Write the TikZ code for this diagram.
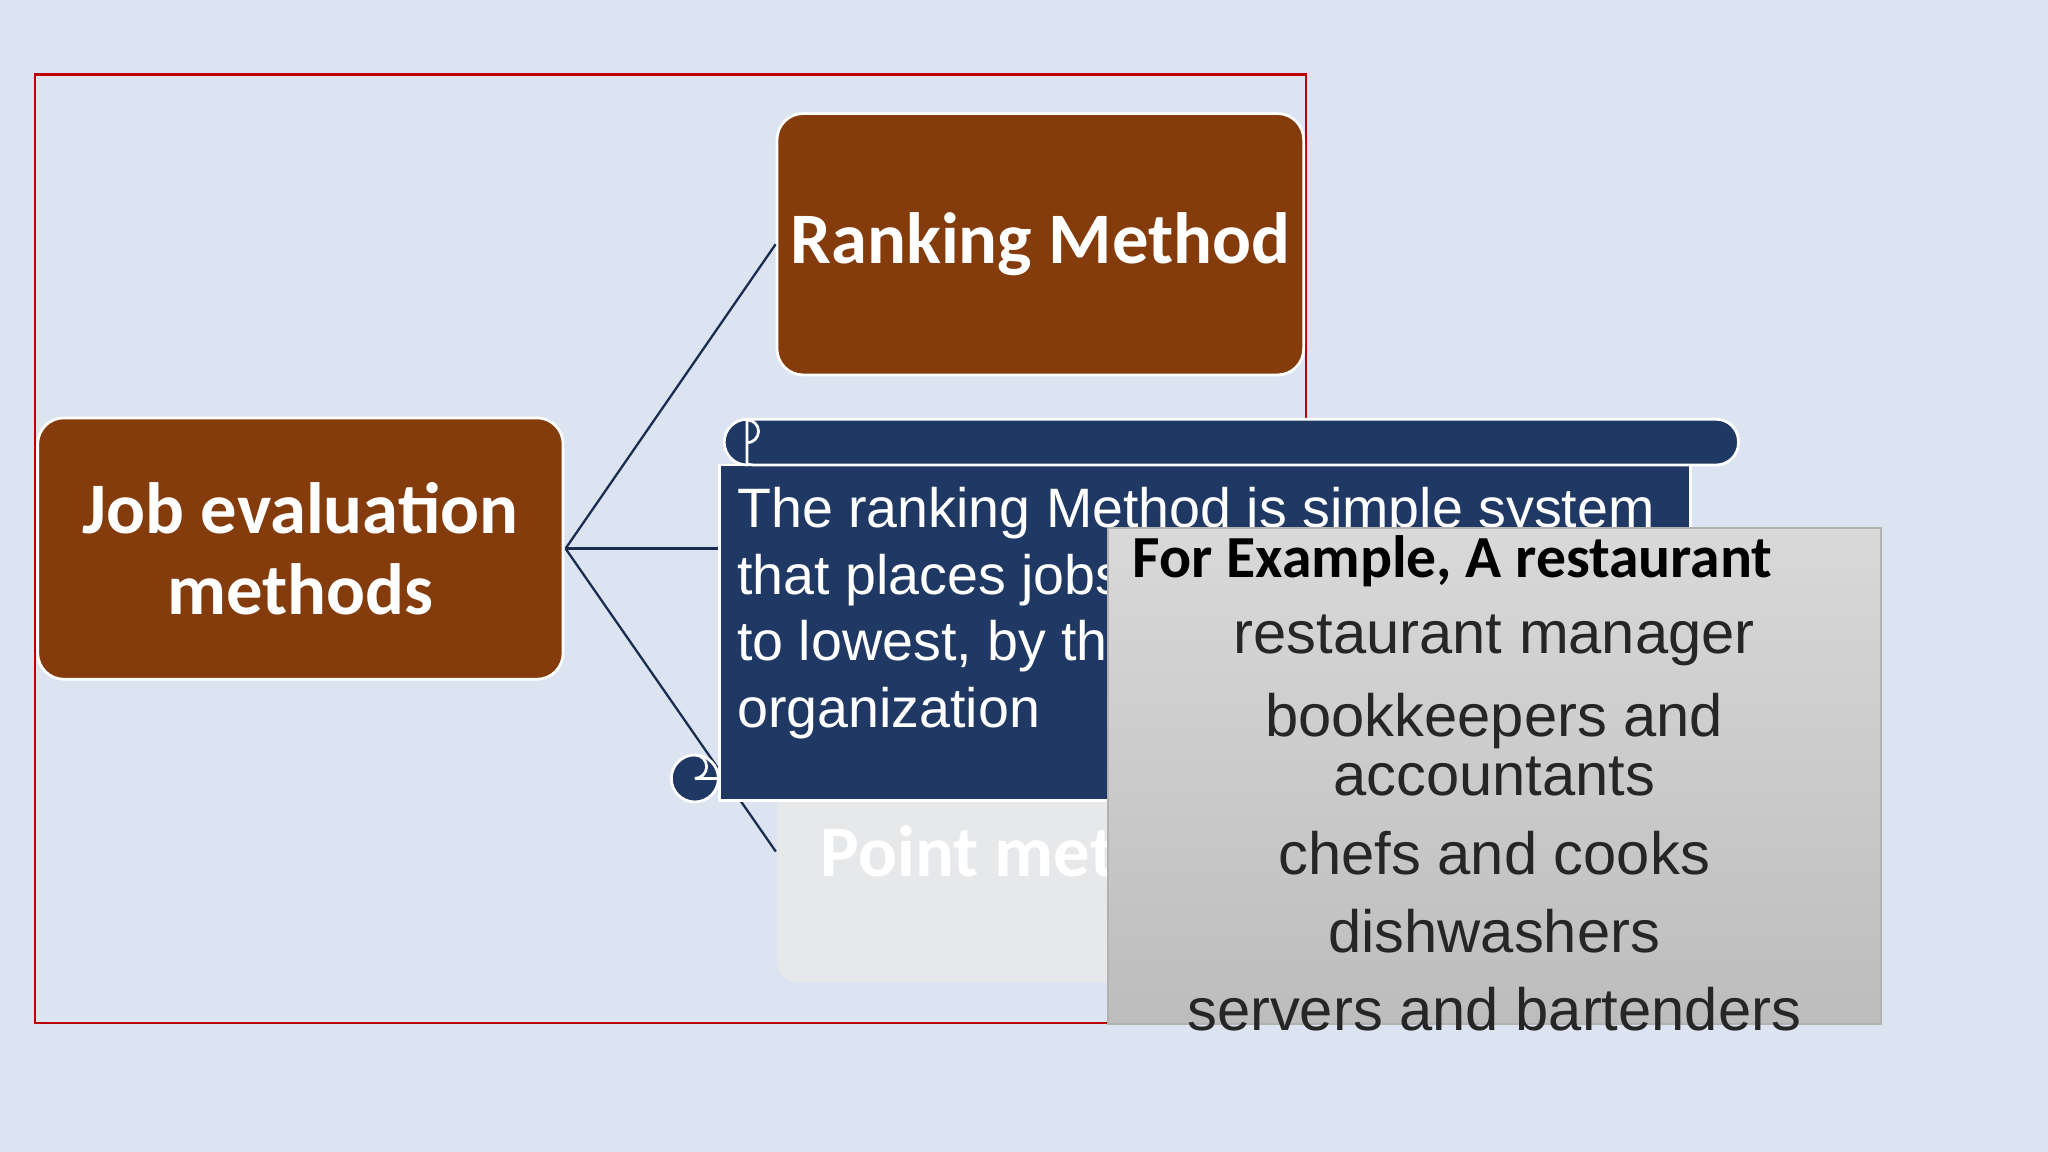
\documentclass[tikz,border=0pt]{standalone}
\usepackage{fontspec}
\setmainfont{Liberation Sans}
\newfontfamily\carlitofont{Carlito}
\definecolor{bg}{HTML}{DCE3F1}
\definecolor{brown}{HTML}{843C0C}
\definecolor{navy}{HTML}{1F3864}
\definecolor{pt}{HTML}{E7E8EA}
\definecolor{txt}{HTML}{262626}
\begin{document}
\begin{tikzpicture}[x=0.01cm,y=-0.01cm,
  brownbox/.style={fill=brown,draw=white,line width=0.6pt,rounded corners=0.2cm},
  title/.style={font=\carlitofont\bfseries\fontsize{15.8}{17.5}\selectfont,text=white,align=center},
  item/.style={font=\fontsize{13}{12.8}\selectfont,text=txt,align=center},
  body/.style={font=\fontsize{12.1}{14.5}\selectfont,text=white,anchor=west},
  conn/.style={draw=navy!80!black,line width=0.5pt}]
\fill[bg] (0,0) rectangle (1568,882);
\draw[red!75!black,line width=0.5pt] (27,57) rectangle (1000,783);
% point method box (behind)
\fill[pt,rounded corners=0.15cm] (595,600) rectangle (998,752);
\node[title,anchor=west,text=white] (pm) at (616,652) {Point method};
% boxes
\node[brownbox,minimum width=4.02cm,minimum height=2.0cm] (job) at (230,420) {};
\node[title] at (230,420) {Job evaluation\\methods};
\node[brownbox,minimum width=4.03cm,minimum height=2.0cm] (rank) at (796.5,187) {};
\node[title] at (796.5,187) {Ranking Method};
\coordinate (hub) at (433,420);
\coordinate (mid) at (550,420);
\coordinate (pme) at (594,652);
\draw[conn] (hub) -- (rank.west);
\draw[conn] (hub) -- (mid);
\draw[conn] (hub) -- (pme);
% scroll
\fill[navy,draw=white,line width=0.6pt] (551,356) rectangle (1294,613);
\fill[navy,draw=white,line width=0.6pt,rounded corners=0.17cm] (560,321) rectangle (1331,356);
\fill[navy,draw=white,line width=0.6pt] (572,321) arc (270:90:17.5) -- cycle;
\draw[white,line width=0.6pt] (572,339) arc (90:-90:8.75);
\fill[navy,draw=white,line width=0.6pt] (532,596) circle (18);
\draw[white,line width=0.6pt] (532,578) arc (270:450:9) -- (550,596);
\node[body] (l1) at (552,393) {The ranking Method is simple system};
\node[body] (l2) at (552,444) {that places jobs in order, from highest};
\node[body] (l3) at (552,495) {to lowest, by their value to the};
\node[body] (l4) at (552,546) {organization};
% gray box
\shade[top color=black!15,bottom color=black!26,draw=black!30] (848,404) rectangle (1440,784);
\node[font=\carlitofont\bfseries\fontsize{13}{14}\selectfont,anchor=west,text=black] (ex) at (855,430) {For Example, A restaurant};
\node[item] (i1) at (1144,490) {restaurant manager};
\node[item] (i2) at (1144,570) {bookkeepers and\\accountants};
\node[item] (i3) at (1144,653) {chefs and cooks};
\node[item] (i4) at (1144,713) {dishwashers};
\node[item] (i5) at (1144,773) {servers and bartenders};
\end{tikzpicture}
\end{document}
